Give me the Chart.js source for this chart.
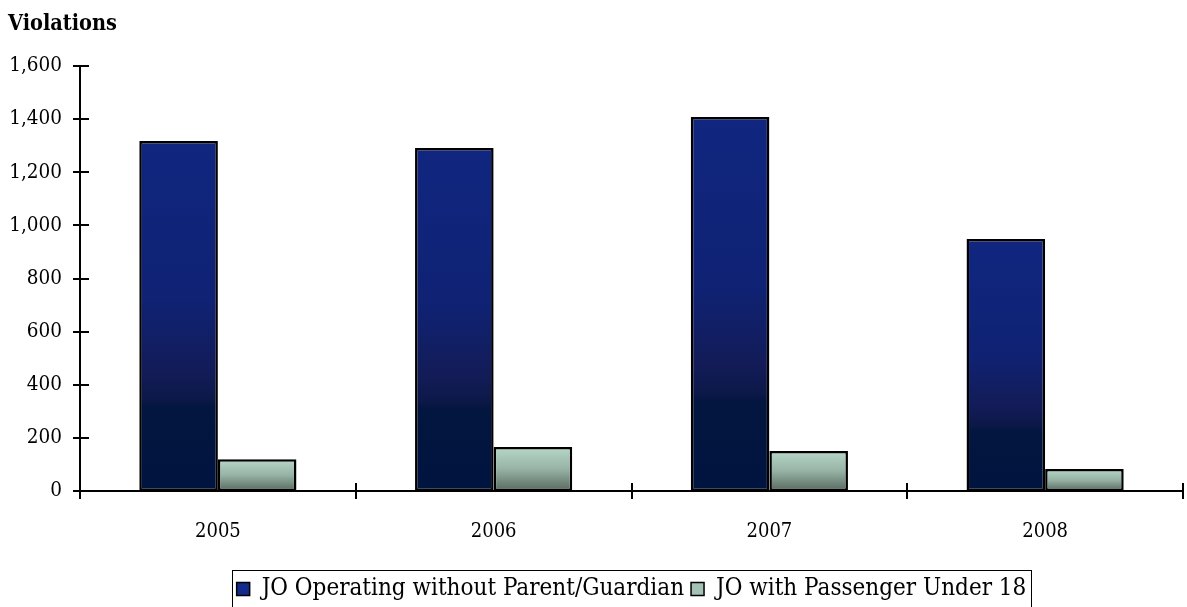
<!DOCTYPE html>
<html>
<head>
<meta charset="utf-8">
<script src="https://cdn.jsdelivr.net/npm/chart.js@4.4.1/dist/chart.umd.min.js"></script>
<style>
  html, body { margin: 0; padding: 0; background: #ffffff; }
  #wrap { width: 1187px; height: 607px; position: relative; }
</style>
</head>
<body>
<div id="wrap"><canvas id="c" width="1187" height="607"></canvas></div>
<script>
const categories = ['2005', '2006', '2007', '2008'];
const seriesNames = ['JO Operating without Parent/Guardian', 'JO with Passenger Under 18'];
const operatingWithoutParent = [1318, 1291, 1408, 949];
const passengerUnder18 = [120, 166, 151, 83];
const yTicks = [0, 200, 400, 600, 800, 1000, 1200, 1400, 1600];
const yTitle = 'Violations';

const FONT = "'DejaVu Serif Condensed', 'DejaVu Serif', serif";

const blueStops = [[0, '#10267f'], [0.45, '#0f2274'], [0.66, '#131c58'], [0.74, '#0c1848'], [0.76, '#02163f'], [1, '#001440']];
const greenStops = [[0, '#b6d8c8'], [0.5, '#97b3a6'], [1, '#58695f']];

function barGrad(ctx, stops) {
  const chart = ctx.chart;
  if (!chart.chartArea || ctx.type !== 'data' || !chart.scales.y) return stops[0][1];
  const y = chart.scales.y;
  const top = y.getPixelForValue(ctx.raw);
  const base = y.getPixelForValue(0);
  if (!isFinite(top) || !isFinite(base) || top === base) return stops[0][1];
  const g = chart.ctx.createLinearGradient(0, top, 0, base);
  stops.forEach(([o, c]) => g.addColorStop(o, c));
  return g;
}

const decorPlugin = {
  id: 'decor',
  afterUpdate(chart) {
    const lg = chart.legend;
    if (!lg) return;
    const ca = chart.chartArea;
    const target = (ca.left + ca.right) / 2;
    const dx = target - (lg.left + lg.right) / 2;
    const dy = 4;
    lg.left += dx; lg.right += dx;
    lg.top += dy; lg.bottom += dy;
    if (lg.adjustHitBoxes) lg.adjustHitBoxes();
  },
  afterDraw(chart) {
    const ctx = chart.ctx;
    const ca = chart.chartArea;
    const x = chart.scales.x, y = chart.scales.y;
    ctx.save();
    ctx.strokeStyle = '#000';
    ctx.lineWidth = 2;
    ctx.beginPath();
    ctx.moveTo(ca.left, ca.top);
    ctx.lineTo(ca.left, ca.bottom);
    ctx.moveTo(ca.left, ca.bottom);
    ctx.lineTo(ca.right, ca.bottom);
    yTicks.forEach(v => {
      const py = Math.round(y.getPixelForValue(v));
      ctx.moveTo(ca.left - 7, py);
      ctx.lineTo(ca.left + 9, py);
    });
    const n = categories.length;
    for (let i = 0; i <= n; i++) {
      let px;
      if (i === 0) px = ca.left;
      else if (i === n) px = ca.right;
      else px = (x.getPixelForValue(i - 1) + x.getPixelForValue(i)) / 2;
      px = Math.round(px);
      ctx.moveTo(px, ca.bottom - 8);
      ctx.lineTo(px, ca.bottom + 8);
    }
    ctx.stroke();

    ctx.fillStyle = '#000';
    ctx.font = "bold 21.5px " + FONT;
    ctx.textAlign = 'left';
    ctx.textBaseline = 'alphabetic';
    ctx.fillText(yTitle, 8, 30);

    const lg = chart.legend;
    if (lg && lg.legendHitBoxes && lg.legendHitBoxes.length) {
      const hb = lg.legendHitBoxes;
      const l = Math.min(...hb.map(h => h.left)) - 5;
      const r = Math.max(...hb.map(h => h.left + h.width)) + 4;
      ctx.lineWidth = 1;
      ctx.strokeStyle = '#000';
      ctx.strokeRect(Math.round(l) + 0.5, Math.round(lg.top) + 0.5, Math.round(r - l), lg.height + 6);
    }
    ctx.restore();
  }
};

new Chart(document.getElementById('c'), {
  type: 'bar',
  data: {
    labels: categories,
    datasets: [
      {
        label: seriesNames[0],
        data: operatingWithoutParent,
        backgroundColor: c => barGrad(c, blueStops),
        borderColor: '#000',
        borderWidth: 2.5,
        borderSkipped: false
      },
      {
        label: seriesNames[1],
        data: passengerUnder18,
        backgroundColor: c => barGrad(c, greenStops),
        borderColor: '#000',
        borderWidth: 2.5,
        borderSkipped: false
      }
    ]
  },
  options: {
    responsive: false,
    animation: false,
    devicePixelRatio: 1,
    categoryPercentage: 0.57,
    barPercentage: 1.0,
    layout: { padding: { left: 0, right: 4, top: 66, bottom: 0 } },
    plugins: {
      tooltip: { enabled: false },
      title: { display: false },
      legend: {
        position: 'bottom',
        labels: {
          font: { family: FONT, size: 24 },
          color: '#000',
          boxWidth: 13,
          boxHeight: 13,
          padding: 7,
          generateLabels(chart) {
            return chart.data.datasets.map((d, i) => ({
              text: d.label,
              fillStyle: i === 0 ? '#132b8c' : '#a4c2b4',
              strokeStyle: '#000',
              lineWidth: 1.5,
              datasetIndex: i,
              hidden: false,
              fontColor: '#000'
            }));
          }
        }
      }
    },
    scales: {
      x: {
        grid: { display: false, drawTicks: false },
        border: { display: false },
        ticks: { font: { family: FONT, size: 20 }, color: '#000', padding: 29 },
        afterFit(s) { s.height = 75; }
      },
      y: {
        min: 0,
        max: 1600,
        grid: { display: false, drawTicks: false },
        border: { display: false },
        afterFit(s) { s.width = 80; },
        afterBuildTicks(s) { s.ticks = yTicks.map(v => ({ value: v })); },
        ticks: {
          font: { family: FONT, size: 20.5 },
          color: '#000',
          padding: 18,
          callback: v => v.toLocaleString('en-US')
        }
      }
    }
  },
  plugins: [decorPlugin]
});
</script>
</body>
</html>
